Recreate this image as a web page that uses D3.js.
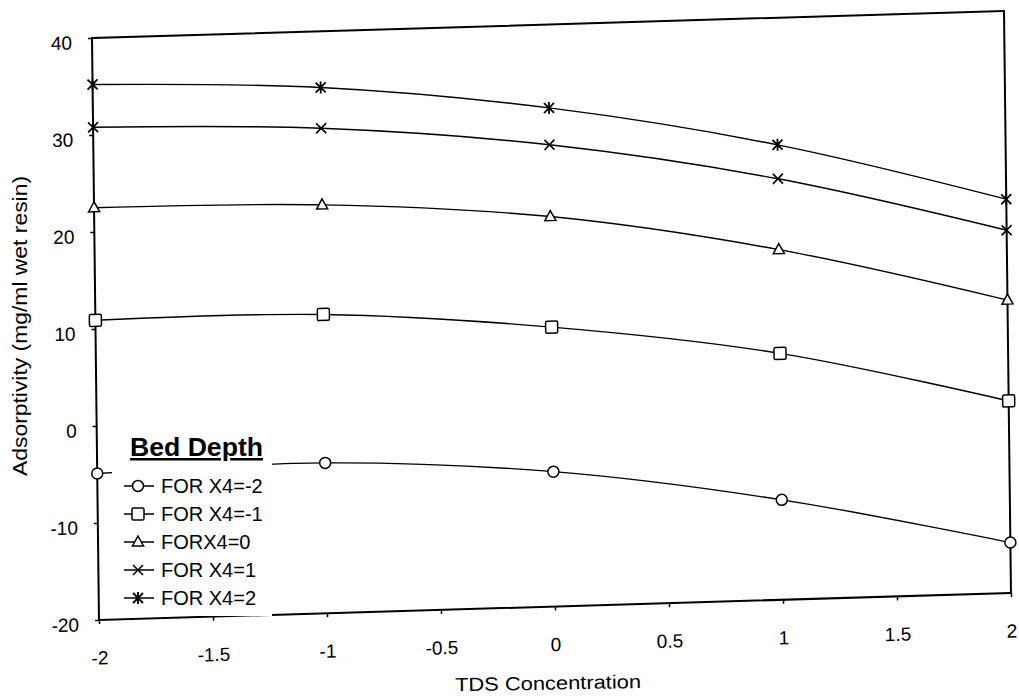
<!DOCTYPE html>
<html>
<head>
<meta charset="utf-8">
<script src="https://cdn.jsdelivr.net/npm/d3@7"></script>
<style>
  html, body { margin: 0; padding: 0; background: #fff; }
  svg { display: block; font-family: "Liberation Sans", Arial, sans-serif; }
</style>
</head>
<body>
<svg id="chart" width="1019" height="699"></svg>
<script>
// TDS concentration levels (coded units)
const tdsLevels = [-2, -1, 0, 1, 2];

// Adsorptivity (mg/ml wet resin) for each bed-depth level X4
const forX4m2 = [-4.9, -4.5, -6.1, -9.7, -14.8];
const forX4m1 = [10.9, 10.8, 8.8, 5.4, -0.2];
const forX40  = [22.5, 22.1, 20.2, 16.1, 10.2];
const forX41  = [30.8, 30.0, 27.6, 23.4, 17.4];
const forX42  = [35.2, 34.2, 31.4, 26.9, 20.6];

const seriesLabels = ["FOR X4=-2", "FOR X4=-1", "FORX4=0", "FOR X4=1", "FOR X4=2"];
const seriesMarkers = ["circle", "square", "triangle", "cross", "star"];

const xTickValues = [-2, -1.5, -1, -0.5, 0, 0.5, 1, 1.5, 2];
const yTickValues = [-20, -10, 0, 10, 20, 30, 40];

const series = [forX4m2, forX4m1, forX40, forX41, forX42].map((vals, i) => ({
  label: seriesLabels[i],
  marker: seriesMarkers[i],
  points: tdsLevels.map((t, j) => ({ x: t, y: vals[j] }))
}));

const W = 912, H = 582;
const FONT = "'Liberation Sans', Arial, sans-serif";
const svg = d3.select("#chart");

const x = d3.scaleLinear().domain([-2, 2]).range([0, W]);
const y = d3.scaleLinear().domain([-20, 40]).range([H, 0]);

// plot frame (slightly sheared, as printed)
const plot = svg.append("g")
  .attr("transform", "matrix(1,-0.0296,0.012,1,92,38)");

// y axis
const yAxis = plot.append("g")
  .call(d3.axisLeft(y).tickValues(yTickValues).tickSize(4).tickPadding(16).tickFormat(d => String(d)));
yAxis.select(".domain").remove();
yAxis.selectAll("line").attr("stroke", "#000").attr("stroke-width", 1.5);
yAxis.selectAll("text").attr("font-size", 19).attr("dy", "0.54em").attr("fill", "#000")
  .attr("font-family", FONT);

// x axis
const xAxis = plot.append("g")
  .attr("transform", `translate(0,${H})`)
  .call(d3.axisBottom(x).tickValues(xTickValues).tickSize(4).tickPadding(27).tickFormat(d => String(d)));
xAxis.select(".domain").remove();
xAxis.selectAll("line").attr("stroke", "#000").attr("stroke-width", 1.5);
xAxis.selectAll("text").attr("font-size", 19).attr("fill", "#000")
  .attr("font-family", FONT);

// plot box
plot.append("rect")
  .attr("x", 0).attr("y", 0).attr("width", W).attr("height", H)
  .attr("fill", "none").attr("stroke", "#000").attr("stroke-width", 2);

// smoothed series lines
const line = d3.line()
  .x(d => x(d.x))
  .y(d => y(d.y))
  .curve(d3.curveCatmullRom.alpha(0.5));

plot.selectAll("path.series")
  .data(series)
  .join("path")
  .attr("class", "series")
  .attr("d", d => line(d.points))
  .attr("fill", "none")
  .attr("stroke", "#000")
  .attr("stroke-width", 1.4);

// marker shapes
function drawMarker(g, type, cx, cy) {
  const s = g.append("g").attr("transform", `translate(${cx},${cy})`);
  if (type === "circle") {
    s.append("circle").attr("r", 5.5)
      .attr("fill", "#fff").attr("stroke", "#000").attr("stroke-width", 1.5);
  } else if (type === "square") {
    s.append("rect").attr("x", -6).attr("y", -6).attr("width", 12).attr("height", 12).attr("rx", 1.5)
      .attr("fill", "#fff").attr("stroke", "#000").attr("stroke-width", 1.5);
  } else if (type === "triangle") {
    s.append("path").attr("d", "M0,-6L5.5,4L-5.5,4Z")
      .attr("fill", "#fff").attr("stroke", "#000").attr("stroke-width", 1.5);
  } else if (type === "cross") {
    s.append("path").attr("d", "M-5,-5L5,5M-5,5L5,-5")
      .attr("fill", "none").attr("stroke", "#000").attr("stroke-width", 1.6);
  } else if (type === "star") {
    s.append("path").attr("d", "M-5,-5L5,5M-5,5L5,-5M0,-6L0,6")
      .attr("fill", "none").attr("stroke", "#000").attr("stroke-width", 1.8);
  }
}

series.forEach(sr => {
  const g = plot.append("g");
  sr.points.forEach(p => drawMarker(g, sr.marker, x(p.x), y(p.y)));
});

// axis titles
svg.append("text")
  .attr("transform", "translate(20,326) rotate(-90)")
  .attr("text-anchor", "middle")
  .attr("dy", "0.35em")
  .attr("font-size", 20)
  .attr("textLength", 300)
  .attr("lengthAdjust", "spacingAndGlyphs")
  .text("Adsorptivity (mg/ml wet resin)");

svg.append("text")
  .attr("transform", "translate(548,683) rotate(-1)")
  .attr("text-anchor", "middle")
  .attr("dy", "0.35em")
  .attr("font-size", 19)
  .attr("textLength", 186)
  .attr("lengthAdjust", "spacingAndGlyphs")
  .text("TDS Concentration");

// legend
const legend = svg.append("g");
legend.append("rect")
  .attr("x", 112).attr("y", 428).attr("width", 160).attr("height", 188)
  .attr("fill", "#fff");
legend.append("text")
  .attr("x", 130).attr("y", 456)
  .attr("font-size", 25)
  .attr("font-weight", "bold")
  .attr("text-decoration", "underline")
  .attr("textLength", 133)
  .attr("lengthAdjust", "spacingAndGlyphs")
  .text("Bed Depth");

const rowY = d3.scaleLinear().domain([0, 4]).range([486, 598]);
series.forEach((sr, i) => {
  const cy = rowY(i);
  legend.append("line")
    .attr("x1", 124).attr("x2", 154).attr("y1", cy).attr("y2", cy)
    .attr("stroke", "#000").attr("stroke-width", 1.5);
  drawMarker(legend, sr.marker, 138, cy);
  legend.append("text")
    .attr("x", 161).attr("y", cy)
    .attr("dy", "0.36em")
    .attr("font-size", 20)
    .text(sr.label);
});
</script>
</body>
</html>
